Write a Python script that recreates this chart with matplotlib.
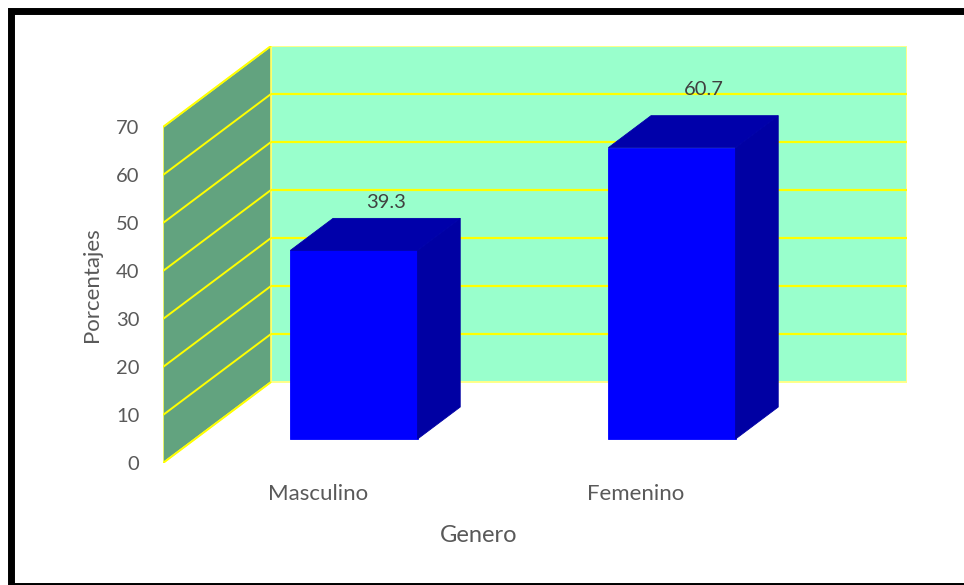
import matplotlib
matplotlib.use('Agg')
import matplotlib.pyplot as plt
import matplotlib.transforms as mtransforms
from matplotlib.patches import Polygon, Rectangle

# ---- data ----
categories = ['Masculino', 'Femenino']
values = [39.3, 60.7]
value_labels = ['39.3', '60.7']
yticks = [0, 10, 20, 30, 40, 50, 60, 70]
x_title = 'Genero'
y_title = 'Porcentajes'

# ---- style / geometry ----
W, H = 964, 585
VMAX = 70
DX, DY = 0.3396, 16.875          # oblique offset of full depth (data units)
BAR_W = 0.4
D0, D1 = 0.296, 0.691            # bar depth extent (fraction of wall depth)
label_off_px = [16, 26]          # label gap above bar top

plt.rcParams['font.family'] = ['Lato', 'DejaVu Sans']
TXT = '#595959'

fig = plt.figure(figsize=(W / 100, H / 100), dpi=100)
ax = fig.add_axes([163 / W, 1 - 463 / H, (907 - 163) / W, (463 - 46) / H])
ax.set_xlim(-0.5, 1.5 + DX)
ax.set_ylim(0, VMAX + DY)
for s in ax.spines.values():
    s.set_visible(False)


def P(x, v, d):
    return (x + d * DX, v + d * DY)


def face(pts, color, z, ec=None, lw=0.6):
    ax.add_patch(Polygon(pts, closed=True, facecolor=color,
                         edgecolor=ec if ec else color, linewidth=lw, zorder=z))


x_left, x_right = -0.5, len(categories) - 0.5

# back wall
face([P(x_left, 0, 1), P(x_right, 0, 1), P(x_right, VMAX, 1), P(x_left, VMAX, 1)],
     '#99FFCC', 1, ec='#FFFF88', lw=1.4)
# side wall
face([P(x_left, 0, 0), P(x_left, 0, 1), P(x_left, VMAX, 1), P(x_left, VMAX, 0)],
     '#62A37F', 1, ec='#FFFF66', lw=1.2)

# gridlines
for t in yticks:
    a, b = P(x_left, t, 0), P(x_left, t, 1)
    ax.plot([a[0], b[0]], [a[1], b[1]], color='#FFFF00', lw=1.4, zorder=2,
            solid_capstyle='butt')
    if 0 < t < VMAX:
        c, d = P(x_left, t, 1), P(x_right, t, 1)
        ax.plot([c[0], d[0]], [c[1], d[1]], color='#FFFF00', lw=1.6, zorder=2,
                solid_capstyle='butt')

# bars
for i, v in enumerate(values):
    x0, x1 = i - BAR_W / 2, i + BAR_W / 2
    face([P(x0, 0, D0), P(x1, 0, D0), P(x1, v, D0), P(x0, v, D0)], '#0000FF', 4)
    face([P(x1, 0, D0), P(x1, 0, D1), P(x1, v, D1), P(x1, v, D0)], '#0000A3', 4)
    face([P(x0, v, D0), P(x1, v, D0), P(x1, v, D1), P(x0, v, D1)], '#0000AA', 4)
    lx = P(i, v, 0.59)[0]
    ly_top = P(i, v, D1)[1]
    ax.annotate(value_labels[i], (lx, ly_top), xytext=(0, label_off_px[i] * 0.72),
                textcoords='offset points', ha='center', va='center',
                fontsize=14.5, color='#404040', zorder=6)

ax.set_yticks(yticks)
ax.set_xticks(range(len(categories)))
ax.set_xticklabels(categories)
ax.tick_params(axis='both', length=0, labelsize=14.5, labelcolor=TXT)
ax.tick_params(axis='x', labelsize=16, pad=15)
ax.tick_params(axis='y', pad=17)
shift = mtransforms.ScaledTranslation(-4 / 100, 0, fig.dpi_scale_trans)
for lab in ax.get_xticklabels():
    lab.set_transform(lab.get_transform() + shift)

ax.set_xlabel(x_title, fontsize=17, color=TXT)
ax.xaxis.set_label_coords((479 - 163) / 744, (463 - 535) / 417)
ax.xaxis.label.set_va('center')
ax.set_ylabel(y_title, fontsize=16, color=TXT)
ax.yaxis.set_label_coords((92 - 163) / 744, (463 - 285) / 417)
ax.yaxis.label.set_va('center')

# outer frame
fig.patches.append(Rectangle((10.5 / W, 1 - 585.5 / H), (968 - 10.5) / W, 575 / H,
                             transform=fig.transFigure, fill=False,
                             edgecolor='black', linewidth=5, zorder=10))

fig.savefig('out.png', dpi=100)
